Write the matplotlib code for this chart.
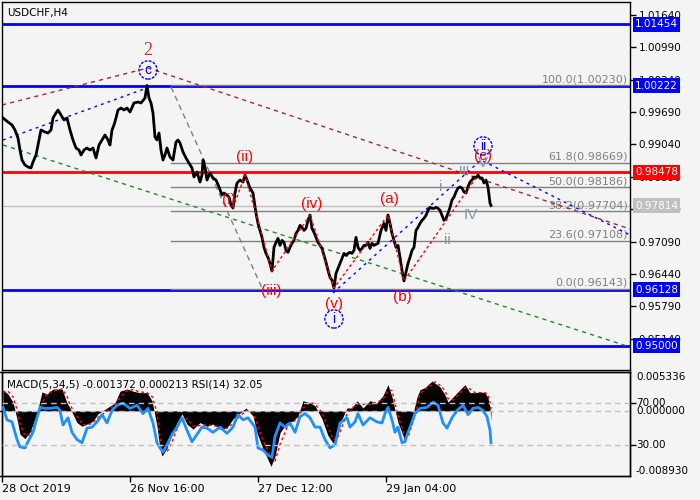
import matplotlib
matplotlib.use('Agg')
import matplotlib.pyplot as plt

plt.rcParams['font.family'] = 'DejaVu Sans'
BG = '#f4f4f4'

##############################################################################
# Data (bar index = H4 bar position on the chart)
##############################################################################
price_bar = [3, 8, 12, 15, 18, 20, 22, 25, 28, 31, 33, 36, 38, 41, 45, 48, 51,
             53, 56, 58, 61, 64, 67, 70, 73, 76, 79, 81, 84, 87, 90, 93, 96,
             99, 102, 105, 108, 110, 112, 114, 116, 118, 121, 124, 127, 130,
             134, 138, 141, 145, 147, 149, 151, 153, 155, 157, 159, 161, 163,
             165, 167, 170, 173, 176, 178, 180, 183, 186, 189, 192, 194, 197,
             200, 202, 203, 205, 207, 210, 213, 216, 219, 222, 224, 227, 229,
             231, 233, 235, 237, 240, 243, 245, 247, 250, 253, 256, 258, 260,
             262, 264, 266, 268, 270, 272, 274, 276, 278, 280, 282, 284, 286,
             288, 290, 292, 294, 296, 298, 300, 302, 304, 306, 308, 310, 312,
             314, 316, 318, 320, 322, 324, 326, 328, 330, 332, 334, 336, 338,
             340, 342, 344, 346, 348, 350, 352, 354, 356, 358, 360, 362, 364,
             366, 368, 370, 372, 374, 378, 381, 384, 386, 388, 390, 392, 394,
             396, 398, 400, 402, 404, 406, 408, 410, 412, 414, 416, 418, 420,
             422, 424, 426, 428, 430, 432, 434, 436, 438, 440, 442, 444, 446,
             448, 450, 452, 454, 456, 458, 460, 462, 464, 466, 468, 470, 472,
             474, 476, 478, 480, 482, 484, 486, 488, 490, 491]
price_close = [0.99572, 0.99491, 0.99431, 0.99331, 0.99170, 0.98929, 0.98728,
               0.98628, 0.98588, 0.98568, 0.98688, 0.98829, 0.99029, 0.99331,
               0.99290, 0.99270, 0.99331, 0.99572, 0.99672, 0.99732, 0.99632,
               0.99531, 0.99572, 0.99331, 0.99130, 0.98969, 0.98929, 0.98829,
               0.98929, 0.98969, 0.98929, 0.98969, 0.98768, 0.99029, 0.99130,
               0.99230, 0.99130, 0.99029, 0.99331, 0.99431, 0.99572, 0.99732,
               0.99772, 0.99732, 0.99772, 0.99692, 0.99873, 0.99893, 0.99873,
               0.99973, 1.00225, 0.99973, 0.99873, 0.99672, 0.99190, 0.99130,
               0.99270, 0.98929, 0.98728, 0.98829, 0.98969, 0.98788, 0.98728,
               0.99089, 0.99130, 0.99069, 0.98889, 0.98768, 0.98668, 0.98567,
               0.98387, 0.98487, 0.98286, 0.98427, 0.98728, 0.98588, 0.98326,
               0.98467, 0.98367, 0.98326, 0.98186, 0.98025, 0.98065, 0.98025,
               0.97985, 0.97825, 0.97764, 0.98065, 0.98266, 0.98326, 0.98286,
               0.98427, 0.98326, 0.98166, 0.98065, 0.97657, 0.97456, 0.97315,
               0.97175, 0.96974, 0.96853, 0.96773, 0.96653, 0.96499, 0.96974,
               0.97074, 0.97155, 0.97014, 0.97114, 0.97074, 0.96914, 0.96874,
               0.96974, 0.97054, 0.97114, 0.97255, 0.97315, 0.97416, 0.97376,
               0.97315, 0.97355, 0.97516, 0.97624, 0.97355, 0.97275, 0.97175,
               0.97074, 0.97014, 0.96954, 0.96813, 0.96673, 0.96512, 0.96372,
               0.96311, 0.96160, 0.96451, 0.96552, 0.96653, 0.96753, 0.96853,
               0.96813, 0.96853, 0.96874, 0.96853, 0.96914, 0.97175, 0.96974,
               0.96914, 0.96954, 0.97014, 0.97014, 0.97074, 0.96954, 0.97054,
               0.97014, 0.97054, 0.97315, 0.97456, 0.97315, 0.97624, 0.97456,
               0.97255, 0.97114, 0.96974, 0.97014, 0.96773, 0.96512, 0.96299,
               0.96472, 0.96653, 0.96773, 0.96914, 0.96974, 0.97315, 0.97376,
               0.97456, 0.97516, 0.97557, 0.97617, 0.97717, 0.97777, 0.97757,
               0.97757, 0.97777, 0.97757, 0.97717, 0.97617, 0.97516, 0.97557,
               0.97657, 0.97777, 0.97925, 0.97985, 0.98086, 0.98166, 0.98186,
               0.98166, 0.98086, 0.98065, 0.98186, 0.98286, 0.98326, 0.98387,
               0.98367, 0.98427, 0.98367, 0.98367, 0.98266, 0.98326, 0.98186,
               0.97865, 0.97814]

price_ticks = [1.01640, 1.00990, 1.00340, 0.99690, 0.99040, 0.98390, 0.97740,
               0.97090, 0.96440, 0.95790, 0.95140]
blue_levels = [1.01454, 1.00222, 0.96128, 0.95000]
red_level = 0.98478
bid_level = 0.97814

fib_pct = [100.0, 61.8, 50.0, 38.2, 23.6, 0.0]
fib_price = [1.00230, 0.98669, 0.98186, 0.97704, 0.97108, 0.96143]
fib_from = 171

# wave extremes joined by the red zigzag
zigzag_bar = [233, 245, 272, 310, 334, 388, 404, 478]

# trend lines (bar, price)
brown_line = [(2, 0.99833), (148, 1.00576), (630, 0.97343)]
blue_line1 = [(3, 0.99130), (147, 1.00174)]
blue_line2 = [(333, 0.96058), (481, 0.98728), (630, 0.97223)]
green_line = [(3, 0.99030), (630, 0.94974)]
gray_line = [(171, 1.00194), (262, 0.96158)]

wave_red = [('(i)', 229, 0.97925), ('(ii)', 245, 0.98788), ('(iii)', 271, 0.96098),
            ('(iv)', 312, 0.97845), ('(v)', 334, 0.95837), ('(a)', 389, 0.97945),
            ('(b)', 402, 0.95978), ('(c)', 483, 0.98809)]
wave_gray = [('i', 441, 0.98186), ('ii', 447, 0.97122), ('iii', 464, 0.98527),
             ('IV', 471, 0.97624), ('V', 483, 0.98668)]
wave_circle = [('c', 148, 1.00536), ('i', 334, 0.95536), ('ii', 483, 0.99010)]

macd_bar = [3, 8, 13, 17, 20, 25, 30, 33, 37, 42, 47, 53, 62, 67, 70, 77, 82,
            87, 93, 98, 107, 115, 120, 127, 133, 140, 147, 152, 157, 160, 162,
            167, 172, 177, 182, 187, 193, 200, 207, 213, 220, 227, 233, 240,
            246, 253, 257, 263, 271, 275, 280, 287, 293, 298, 303, 310, 315,
            322, 328, 333, 337, 342, 347, 352, 357, 363, 370, 377, 383, 388,
            392, 395, 398, 402, 405, 408, 412, 417, 420, 425, 432, 435, 440,
            445, 448, 453, 460, 465, 470, 475, 480, 485, 488, 490, 491]
macd_val = [2.9, 2.3, 1.2, -1.1, -3.2, -3.8, -2.9, -1.8, -0.3, 2.6, 2.3, 3.0,
            3.0, 1.1, 0.4, -1.6, -2.1, -1.8, -1.4, -0.4, 0.4, 1.1, 2.7, 3.0,
            2.7, 2.5, 2.5, 1.4, -2.1, -5.2, -6.2, -5.1, -3.2, -1.6, -0.4, -1.8,
            -2.5, -1.6, -2.1, -1.8, -2.5, -2.3, -1.1, -0.3, 0.4, -0.7, -3.0,
            -5.2, -7.6, -6.2, -3.0, -1.6, -1.4, -0.7, 1.4, 1.1, 0.7, -1.1,
            -3.4, -4.4, -3.4, -1.1, 0.4, 0.4, 1.4, 0.4, 1.4, 1.1, 2.1, 3.6,
            1.9, 0.1, -1.6, -3.0, -4.2, -2.9, -1.0, 1.9, 2.9, 3.2, 4.1, 3.8,
            3.3, 2.2, 1.2, 1.9, 2.9, 3.6, 2.5, 2.5, 2.6, 2.5, 1.8, 0.4, -1.372]
signal_val = [2.5, 2.7, 1.9, 0.2, -1.8, -3.4, -3.3, -2.4, -1.1, 1.0, 2.4, 2.7,
              3.0, 2.0, 0.8, -0.7, -1.8, -2.0, -1.6, -0.9, 0.0, 0.8, 1.9, 2.8,
              2.9, 2.6, 2.5, 2.0, -0.2, -3.6, -5.3, -5.6, -4.3, -2.5, -1.0,
              -1.1, -2.1, -2.0, -1.9, -2.0, -2.2, -2.4, -1.7, -0.7, 0.0, -0.2,
              -1.8, -4.1, -6.3, -6.9, -4.6, -2.3, -1.5, -1.0, 0.4, 1.2, 0.9,
              -0.2, -2.2, -3.9, -3.9, -2.2, -0.4, 0.4, 0.9, 0.9, 0.9, 1.2, 1.6,
              2.8, 2.8, 1.0, -0.7, -2.3, -3.6, -3.6, -2.0, 0.4, 2.4, 3.0, 3.6,
              4.0, 3.5, 2.8, 1.7, 1.5, 2.4, 3.2, 3.0, 2.5, 2.5, 2.5, 2.2, 1.2,
              0.213]

rsi_bar = [3, 7, 12, 17, 20, 25, 28, 33, 37, 40, 45, 50, 57, 60, 63, 68, 72,
           77, 82, 87, 92, 97, 102, 107, 112, 117, 123, 130, 137, 143, 148,
           153, 157, 160, 163, 167, 172, 177, 182, 187, 192, 197, 202, 207,
           213, 220, 227, 233, 238, 243, 248, 255, 258, 263, 268, 272, 275,
           280, 285, 290, 295, 300, 305, 310, 315, 320, 325, 330, 335, 340,
           347, 350, 355, 358, 363, 370, 377, 382, 385, 388, 392, 395, 398,
           402, 405, 408, 412, 415, 420, 427, 433, 438, 443, 447, 452, 457,
           463, 468, 473, 478, 483, 487, 490, 491]
rsi_val = [66, 54, 52, 35, 28, 27, 33, 42, 56, 66, 65, 65, 66, 63, 49, 56, 42,
           35, 32, 46, 47, 52, 59, 51, 63, 68, 70, 65, 68, 60, 65, 51, 32, 27,
           23, 30, 40, 47, 56, 44, 33, 40, 47, 46, 42, 47, 41, 47, 59, 54, 56,
           47, 27, 25, 20, 18, 38, 51, 47, 51, 42, 57, 60, 56, 47, 47, 35, 27,
           30, 51, 56, 47, 52, 60, 49, 56, 52, 51, 60, 66, 54, 42, 47, 32, 33,
           42, 52, 60, 65, 66, 71, 68, 51, 46, 56, 63, 68, 59, 65, 66, 63, 57,
           44, 32.05]

time_bar = [2, 130, 258, 386]
time_lbl = ['28 Oct 2019', '26 Nov 16:00', '27 Dec 12:00', '29 Jan 04:00']

##############################################################################
# Price window
##############################################################################
fig = plt.figure(figsize=(7, 5), dpi=100, facecolor=BG)
ax = fig.add_axes([2 / 700, 130 / 500, 628 / 700, 368 / 500], facecolor=BG)
ax.set_xlim(2, 630)
ax.set_ylim(0.945116, 1.01901)
ytr = ax.get_yaxis_transform()

for v in blue_levels:
    ax.axhline(v, color='#0000ff', lw=2, zorder=1)
ax.axhline(red_level, color='#ff0000', lw=2, zorder=1)
ax.axhline(bid_level, color='#c0c0c0', lw=1, zorder=1)

for pct, p in zip(fib_pct, fib_price):
    ax.plot([fib_from, 630], [p, p], color='#808080', lw=1, zorder=1.5)
    ax.annotate('%.1f(%.5f)' % (pct, p), xy=(628, p), xytext=(0, 1),
                textcoords='offset pixels', ha='right', va='bottom',
                fontsize=8, color='#808080', zorder=2)

def trend(pts, color, dash, lw=1):
    ax.plot([q[0] for q in pts], [q[1] for q in pts], color=color, lw=lw,
            dashes=dash, zorder=2)

trend(brown_line, '#a52a2a', (3, 3))
trend(blue_line1, '#0000ff', (2, 3))
trend(blue_line2, '#0000ff', (2, 3))
trend(green_line, '#228b22', (3, 3))
trend(gray_line, '#808080', (4, 3))

ax.plot(price_bar, price_close, color='black', lw=2, zorder=3)

zz_price = [price_close[price_bar.index(b)] for b in zigzag_bar]
ax.plot(zigzag_bar, zz_price, color='#ff0000', lw=1, dashes=(2, 2), zorder=4)

# wave labels
ax.text(148, 1.00937, '2', color='#cc3333', fontsize=13, ha='center',
        va='center', family='Liberation Serif', zorder=6)
for t, b, p in wave_red:
    ax.text(b, p, t, color='#ff0000', fontsize=11, ha='center', va='center',
            family='Liberation Sans', zorder=6)
for t, b, p in wave_gray:
    ax.text(b, p, t, color='#8494a8', fontsize=11, ha='center', va='center',
            family='Liberation Sans', zorder=6)
for t, b, p in wave_circle:
    ax.text(b, p, t, color='#0000ff', fontsize=10, ha='center', va='center',
            family='Liberation Sans', zorder=6,
            bbox=dict(boxstyle='circle,pad=0.15', fc='none', ec='#0000ff',
                      lw=1, ls=(0, (2, 1))))

ax.text(0.008, 0.985, 'USDCHF,H4', transform=ax.transAxes, va='top',
        ha='left', fontsize=7.5)

ax.yaxis.tick_right()
ax.set_yticks(price_ticks)
ax.set_yticklabels(['%.5f' % t for t in price_ticks])
ax.tick_params(axis='y', length=4, width=1, pad=2, labelsize=7.5)
ax.set_xticks([])

tags = [(v, '#0000ff') for v in blue_levels] + [(red_level, '#ff0000'),
                                                (bid_level, '#c0c0c0')]
for v, c in tags:
    ax.annotate('%.5f' % v, xy=(1, v), xycoords=ytr, xytext=(5, 0),
                textcoords='offset pixels', ha='left', va='center',
                fontsize=7.5, color='white', annotation_clip=False,
                bbox=dict(boxstyle='square,pad=0.22', fc=c, ec='none'),
                zorder=10)

##############################################################################
# MACD / RSI window
##############################################################################
ax2 = fig.add_axes([2 / 700, 24 / 500, 628 / 700, 104 / 500], facecolor=BG)
ax2.set_xlim(2, 630)
ax2.set_ylim(-0.008930, 0.005336)
m = [v / 1000 for v in macd_val]
s = [v / 1000 for v in signal_val]
ax2.fill_between(macd_bar, 0, m, color='black', lw=0, zorder=2)
ax2.plot(macd_bar, s, color='#ff0000', lw=1, dashes=(2, 2), zorder=3)
ax2.axhline(0, color='#c0c0c0', lw=1, dashes=(4, 3), zorder=4)
ax2.yaxis.tick_right()
ax2.set_yticks([0.005336, 0, -0.008930])
ax2.set_yticklabels([])
ax2.tick_params(axis='y', length=4, width=1)
ax2.set_xticks(time_bar)
ax2.set_xticklabels(time_lbl, ha='left', fontsize=8)
ax2.tick_params(axis='x', length=4, width=1, pad=2)

ax3 = ax2.twinx()
ax3.set_ylim(0, 100)
ax3.plot(rsi_bar, rsi_val, color='#1e90ff', lw=2, zorder=3)
for lv in (70, 30):
    ax3.axhline(lv, color='#c0c0c0', lw=1, dashes=(4, 3), zorder=4)
ax3.set_yticks([70, 30])
ax3.set_yticklabels([])
ax3.tick_params(axis='y', length=4, width=1)
ax3.text(0.008, 0.93, 'MACD(5,34,5) -0.001372 0.000213 RSI(14) 32.05',
         transform=ax3.transAxes, va='top', ha='left', fontsize=7.5, zorder=6)

ytr2 = ax2.get_yaxis_transform()
ytr3 = ax3.get_yaxis_transform()
side = [('0.005336', 0.005336, 'top', ytr2), ('0.000000', 0, 'center', ytr2),
        ('-0.008930', -0.008930, 'bottom', ytr2), ('70.00', 70, 'center', ytr3),
        ('30.00', 30, 'center', ytr3)]
for t, v, va, tr in side:
    ax3.annotate(t, xy=(1, v), xycoords=tr, xytext=(6, 0),
                 textcoords='offset pixels', ha='left', va=va, fontsize=7.5,
                 annotation_clip=False)

for a in (ax, ax2, ax3):
    for sp in a.spines.values():
        sp.set_color('black')
        sp.set_linewidth(1)

fig.savefig('out.png', dpi=100, facecolor=BG)
